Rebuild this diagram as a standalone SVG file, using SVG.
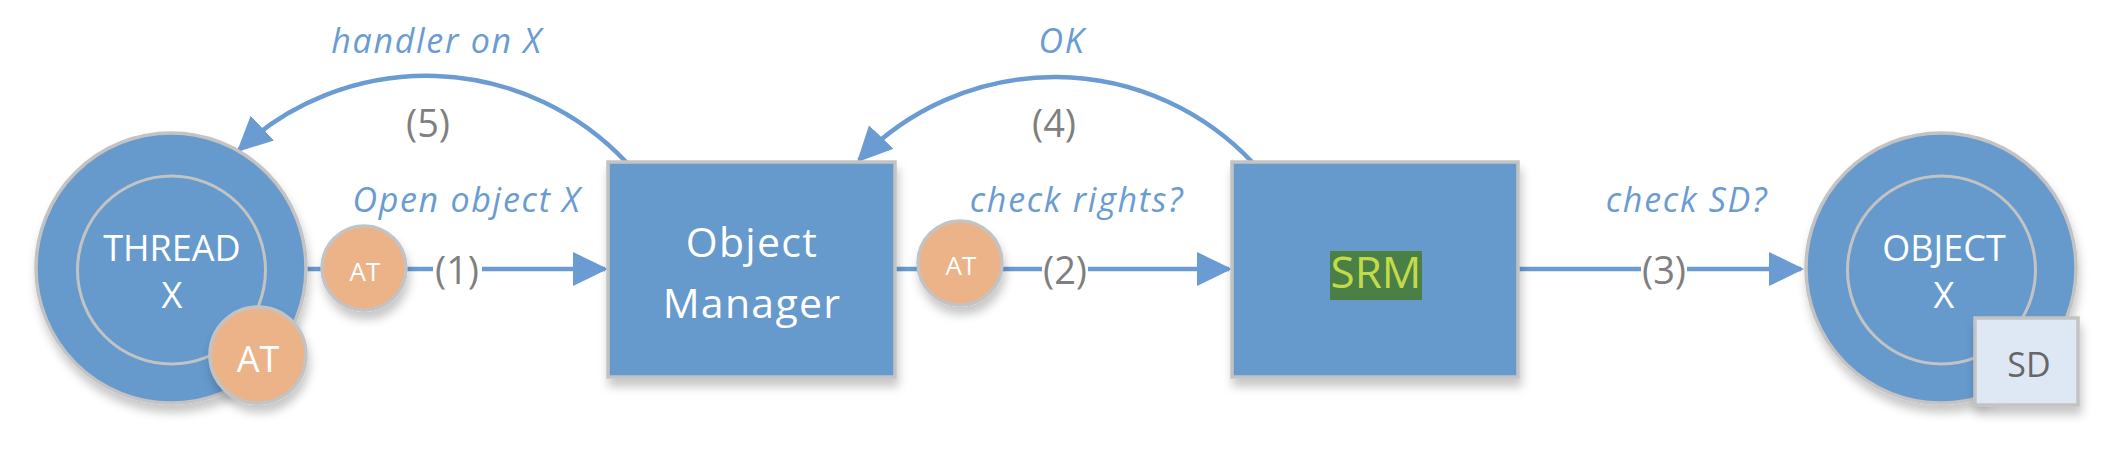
<svg xmlns="http://www.w3.org/2000/svg" width="2114" height="450" viewBox="0 0 2114 450">
<style>
.shape{fill:#6699cc;stroke:#c3c3c3;stroke-width:3.5}
.inner{fill:none;stroke:#c3c3c3;stroke-width:3}
.at{fill:#ecb389;stroke:#c3c3c3;stroke-width:3.5}
.sd{fill:#dee8f4;stroke:#c3c3c3;stroke-width:3.5}
.conn{fill:none;stroke:#6a9bd3;stroke-width:4.5}
.wt{font-family:"Open Sans","Noto Sans",sans-serif;fill:#ffffff;text-anchor:middle}
.lbl{font-family:"Open Sans","Noto Sans",sans-serif;font-style:italic;fill:#6a9bd3;font-size:34px;letter-spacing:1.7px;text-anchor:middle}
.num{font-family:"Open Sans","Noto Sans",sans-serif;fill:#7f7f7f;font-size:38px;text-anchor:middle}
</style>
<defs>
<filter id="sh" x="-20%" y="-20%" width="140%" height="150%">
<feDropShadow dx="2" dy="8" stdDeviation="5" flood-color="#000" flood-opacity="0.22"/>
</filter>
<marker id="arr" markerUnits="userSpaceOnUse" markerWidth="36" markerHeight="36" viewBox="0 0 36 36" refX="32" refY="17" orient="auto">
<path d="M0,0 L35,17 L0,34 z" fill="#6a9bd3"/>
</marker>
</defs>
<g id="connectors">
<path class="conn" d="M300 269 H433 M482 269 H605" marker-end="url(#arr)"/>
<path class="conn" d="M890 269 H1042 M1088 269 H1229" marker-end="url(#arr)"/>
<path class="conn" d="M1515 269 H1641 M1687 269 H1801" marker-end="url(#arr)"/>
<path class="conn" d="M1253 163 A272 272 0 0 0 859 160" marker-end="url(#arr)"/>
<path class="conn" d="M627 163 A274 274 0 0 0 239 150" marker-end="url(#arr)"/>
</g>
<g id="labels">
<text class="lbl" x="437" y="53">handler on X</text>
<text class="lbl" x="1062" y="53">OK</text>
<text class="lbl" x="467" y="212">Open object X</text>
<text class="lbl" x="1077" y="212">check rights?</text>
<text class="lbl" x="1687" y="212">check SD?</text>
<text class="num" x="428" y="137">(5)</text>
<text class="num" x="1054" y="137">(4)</text>
<text class="num" x="457" y="284">(1)</text>
<text class="num" x="1065" y="284">(2)</text>
<text class="num" x="1664" y="284">(3)</text>
</g>
<g id="thread">
<circle class="shape" cx="171" cy="268" r="135" filter="url(#sh)"/>
<circle class="inner" cx="171.5" cy="270" r="94"/>
<text class="wt" x="172" y="261" font-size="36">THREAD</text>
<text class="wt" x="172" y="308" font-size="36">X</text>
</g>
<g id="thread-at">
<circle class="at" cx="258" cy="355" r="48" filter="url(#sh)"/>
<text class="wt" x="258" y="372" font-size="36">AT</text>
</g>
<g id="at1">
<circle class="at" cx="364" cy="268" r="42" filter="url(#sh)"/>
<text class="wt" x="365" y="281" font-size="26">AT</text>
</g>
<g id="object-manager">
<rect class="shape" x="608" y="162" width="287" height="215" filter="url(#sh)"/>
<text class="wt" x="752" y="257" font-size="41" letter-spacing="1.3">Object</text>
<text class="wt" x="752" y="318" font-size="41" letter-spacing="1.3">Manager</text>
</g>
<g id="at2">
<circle class="at" cx="960" cy="263" r="42" filter="url(#sh)"/>
<text class="wt" x="961" y="275" font-size="26">AT</text>
</g>
<g id="srm">
<rect class="shape" x="1232" y="162" width="286" height="215" filter="url(#sh)"/>
<rect x="1330" y="251" width="92" height="49" fill="#4a7f45"/>
<text x="1376" y="288" font-size="44" font-family="Open Sans, Noto Sans, sans-serif" fill="#c3da4a" text-anchor="middle">SRM</text>
</g>
<g id="object-x">
<circle class="shape" cx="1941" cy="268" r="135" filter="url(#sh)"/>
<circle class="inner" cx="1941.5" cy="270" r="94"/>
<text class="wt" x="1944" y="261" font-size="36">OBJECT</text>
<text class="wt" x="1944" y="308" font-size="36">X</text>
</g>
<g id="sd">
<rect class="sd" x="1975" y="318" width="103" height="87" filter="url(#sh)"/>
<text x="2029" y="377" font-size="34" font-family="Open Sans, Noto Sans, sans-serif" fill="#666666" text-anchor="middle">SD</text>
</g>
</svg>
